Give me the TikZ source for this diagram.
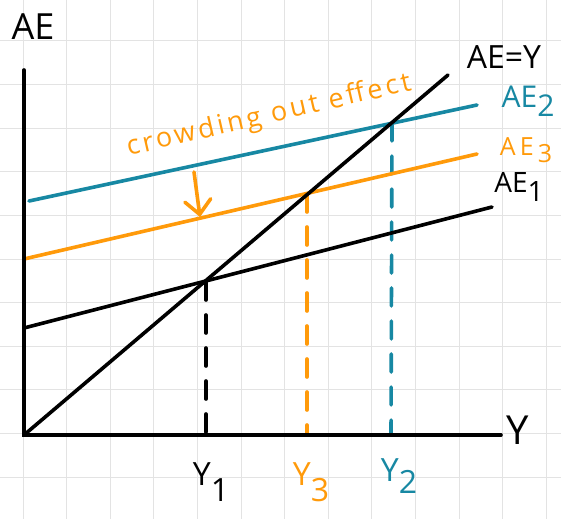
\documentclass[tikz,border=0pt]{standalone}
\usepackage{fontspec}
\setmainfont{Open Sans}
\usetikzlibrary{arrows.meta}
\definecolor{tealc}{HTML}{1788A3}
\definecolor{orngc}{HTML}{FF9A0A}
\definecolor{gridc}{HTML}{E3E3E3}
\begin{document}
\begin{tikzpicture}[x=1pt,y=-1pt,
  curve/.style={line width=3.6pt,line cap=round},
  dashv/.style={line width=3.6pt,line cap=round,dash pattern=on 18pt off 15pt},
  gridline/.style={gridc,line width=1pt},
  lbl/.style={inner sep=0pt,font=\fontsize{30}{30}\selectfont}]
\useasboundingbox (0,0) rectangle (561,519);
\fill[white] (0,0) rectangle (561,519);
\foreach \i in {0,...,12} \draw[gridline] ({23+43.6*\i},0) -- ({23+43.6*\i},519);
\foreach \j in {0,...,11} \draw[gridline] (0,{41+43.6*\j}) -- (561,{41+43.6*\j});
% coordinates
\coordinate (O) at (24,435);
\coordinate (yTop) at (24,70);
\coordinate (xEnd) at (501,435);
\coordinate (d1) at (448,75);
\coordinate (a2s) at (29,201);
\coordinate (a2e) at (477,105);
\coordinate (a3s) at (24,259);
\coordinate (a3e) at (477,154);
\coordinate (a1s) at (24,328);
\coordinate (a1e) at (492,207);
\coordinate (p1) at (206,282);
\coordinate (p3) at (307,194);
\coordinate (p2) at (392,123);
\coordinate (f1) at (206,435);
\coordinate (f3) at (307,435);
\coordinate (f2) at (391,435);
\coordinate (arS) at (194,172);
\coordinate (arE) at (200,217);
% dashed drop lines
\draw[dashv] (p1) -- (f1);
\draw[dashv,orngc] (p3) -- (f3);
\draw[dashv,tealc] (p2) -- (f2);
% curves
\draw[curve,tealc] (a2s) -- (a2e);
\draw[curve,orngc] (a3s) -- (a3e);
\draw[curve] (a1s) -- (a1e);
\draw[curve] (O) -- (d1);
% axes
\draw[curve] (yTop) -- (O) -- (xEnd);
% arrow
\draw[line width=3.6pt,line cap=round,orngc,-{Straight Barb[length=14pt,width=26pt,line cap=round]}] (arS) -- (arE);
% labels
\node[lbl,font=\fontsize{36}{36}\selectfont] (lAE) at (33,27) {AE};
\node[lbl,font=\fontsize{40}{40}\selectfont] (lY) at (518,430) {Y};
\node[lbl,font=\fontsize{32}{32}\selectfont] (lAEY) at (504,57) {AE=Y};
\node[lbl,tealc] (lAE2) at (528,101) {AE\raisebox{-0.3em}{2}};
\node[lbl,orngc,font=\fontsize{25}{25}\selectfont] (lAE3) at (526,150) {A\,E\,\raisebox{-0.3em}{3}};
\node[lbl,font=\fontsize{28}{28}\selectfont] (lAE1) at (519,187) {AE\raisebox{-0.3em}{1}};
\node[lbl,font=\fontsize{32}{32}\selectfont] (lY1) at (211,482) {Y\raisebox{-0.5em}{1}};
\node[lbl,orngc,font=\fontsize{32}{32}\selectfont] (lY3) at (311,482) {Y\raisebox{-0.5em}{3}};
\node[lbl,tealc,font=\fontsize{32}{32}\selectfont] (lY2) at (399,476) {Y\raisebox{-0.4em}{2}};
\node[lbl,orngc,rotate=13,font=\fontsize{27}{27}\selectfont\addfontfeature{LetterSpace=12}] (crowd) at (269,116) {crowding out effect};
\end{tikzpicture}
\end{document}
